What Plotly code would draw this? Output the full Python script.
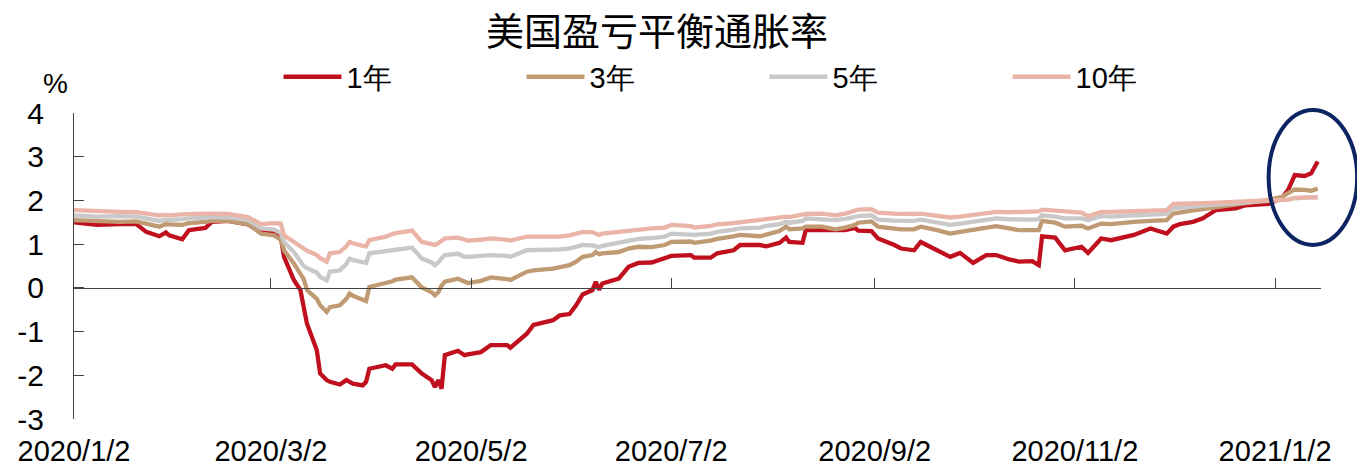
import plotly.graph_objects as go

dates = [
    "2020-01-02", "2020-01-09", "2020-01-16", "2020-01-21", "2020-01-24", "2020-01-28", "2020-01-30", "2020-01-31",
    "2020-02-04", "2020-02-06", "2020-02-11", "2020-02-13", "2020-02-18", "2020-02-24", "2020-02-28",
    "2020-03-03", "2020-03-05", "2020-03-06", "2020-03-09", "2020-03-11", "2020-03-12", "2020-03-13",
    "2020-03-16", "2020-03-17", "2020-03-19", "2020-03-20", "2020-03-23", "2020-03-25", "2020-03-26",
    "2020-03-27", "2020-03-30", "2020-03-31", "2020-04-01", "2020-04-06", "2020-04-08", "2020-04-09",
    "2020-04-14", "2020-04-17", "2020-04-20", "2020-04-21", "2020-04-22", "2020-04-23", "2020-04-24",
    "2020-04-28", "2020-04-30", "2020-05-01", "2020-05-05", "2020-05-08", "2020-05-13", "2020-05-14",
    "2020-05-19", "2020-05-21", "2020-05-27", "2020-05-29", "2020-06-01", "2020-06-03", "2020-06-05",
    "2020-06-08", "2020-06-09", "2020-06-10", "2020-06-11", "2020-06-16", "2020-06-19", "2020-06-22",
    "2020-06-26", "2020-06-30", "2020-07-02", "2020-07-08", "2020-07-09", "2020-07-14", "2020-07-16",
    "2020-07-21", "2020-07-23", "2020-07-29", "2020-07-31", "2020-08-04", "2020-08-06", "2020-08-07",
    "2020-08-11", "2020-08-12", "2020-08-17", "2020-08-21", "2020-08-24", "2020-08-27", "2020-08-28",
    "2020-09-01", "2020-09-03", "2020-09-08", "2020-09-10", "2020-09-14", "2020-09-16", "2020-09-21",
    "2020-09-25", "2020-09-28", "2020-09-30", "2020-10-02", "2020-10-06", "2020-10-09", "2020-10-13",
    "2020-10-16", "2020-10-20", "2020-10-22", "2020-10-23", "2020-10-27", "2020-10-30", "2020-11-04",
    "2020-11-06", "2020-11-10", "2020-11-13", "2020-11-17", "2020-11-20", "2020-11-25", "2020-11-30",
    "2020-12-02", "2020-12-04", "2020-12-08", "2020-12-11", "2020-12-15", "2020-12-21", "2020-12-24",
    "2020-12-31", "2021-01-04", "2021-01-06", "2021-01-08", "2021-01-11", "2021-01-13", "2021-01-15",
]

y1 = [
    1.50, 1.44, 1.46, 1.46, 1.28, 1.18, 1.27, 1.20,
    1.11, 1.32, 1.37, 1.51, 1.53, 1.45, 1.28,
    1.27, 1.17, 0.71, 0.18, -0.05, -0.44, -0.82,
    -1.43, -1.96, -2.11, -2.15, -2.21, -2.11, -2.15,
    -2.19, -2.23, -2.15, -1.85, -1.77, -1.85, -1.75,
    -1.75, -1.96, -2.11, -2.27, -2.11, -2.31, -1.54,
    -1.44, -1.54, -1.52, -1.47, -1.31, -1.31, -1.37,
    -1.05, -0.85, -0.74, -0.63, -0.60, -0.40, -0.15,
    -0.05, 0.14, -0.04, 0.10, 0.21, 0.48, 0.57,
    0.58, 0.69, 0.73, 0.75, 0.69, 0.69, 0.79,
    0.86, 0.98, 0.98, 0.95, 1.03, 1.15, 1.05,
    1.03, 1.32, 1.31, 1.32, 1.32, 1.37, 1.31,
    1.30, 1.13, 0.98, 0.90, 0.86, 1.05, 0.86,
    0.71, 0.80, 0.69, 0.57, 0.75, 0.75, 0.65,
    0.60, 0.61, 0.52, 1.18, 1.15, 0.86, 0.94,
    0.80, 1.13, 1.09, 1.17, 1.21, 1.36, 1.24,
    1.40, 1.46, 1.51, 1.59, 1.78, 1.82, 1.89,
    1.92, 2.05, 2.24, 2.58, 2.56, 2.62, 2.89,
]

y3 = [
    1.55, 1.52, 1.51, 1.52, 1.47, 1.40, 1.46, 1.45,
    1.44, 1.48, 1.51, 1.53, 1.53, 1.46, 1.24,
    1.20, 1.10, 0.86, 0.56, 0.33, 0.20, -0.05,
    -0.25, -0.40, -0.55, -0.44, -0.40, -0.25, -0.13,
    -0.18, -0.28, -0.30, 0.02, 0.11, 0.15, 0.19,
    0.24, 0.01, -0.10, -0.17, -0.10, 0.05, 0.14,
    0.21, 0.16, 0.11, 0.16, 0.24, 0.20, 0.18,
    0.37, 0.40, 0.44, 0.48, 0.52, 0.60, 0.71,
    0.75, 0.82, 0.77, 0.79, 0.82, 0.90, 0.94,
    0.93, 0.98, 1.05, 1.06, 1.03, 1.08, 1.12,
    1.18, 1.21, 1.18, 1.22, 1.30, 1.40, 1.34,
    1.36, 1.40, 1.40, 1.34, 1.38, 1.44, 1.49,
    1.52, 1.40, 1.36, 1.34, 1.34, 1.40, 1.32,
    1.24, 1.28, 1.30, 1.32, 1.38, 1.41, 1.36,
    1.32, 1.32, 1.32, 1.53, 1.49, 1.40, 1.42,
    1.36, 1.47, 1.46, 1.50, 1.51, 1.53, 1.55,
    1.70, 1.73, 1.77, 1.80, 1.84, 1.89, 1.92,
    2.01, 2.08, 2.16, 2.25, 2.24, 2.22, 2.27,
]

y5 = [
    1.66, 1.63, 1.64, 1.63, 1.59, 1.53, 1.56, 1.55,
    1.57, 1.59, 1.61, 1.62, 1.61, 1.56, 1.36,
    1.33, 1.25, 1.05, 0.82, 0.62, 0.50, 0.45,
    0.35, 0.25, 0.17, 0.37, 0.40, 0.55, 0.67,
    0.64, 0.58, 0.57, 0.79, 0.84, 0.86, 0.88,
    0.92, 0.67, 0.58, 0.52, 0.58, 0.68, 0.75,
    0.78, 0.71, 0.71, 0.72, 0.75, 0.73, 0.71,
    0.86, 0.86, 0.86, 0.88, 0.90, 0.95, 0.98,
    0.97, 0.94, 0.93, 0.96, 1.03, 1.08, 1.12,
    1.14, 1.17, 1.24, 1.23, 1.21, 1.24, 1.28,
    1.33, 1.36, 1.38, 1.42, 1.46, 1.51, 1.49,
    1.53, 1.59, 1.58, 1.55, 1.58, 1.62, 1.64,
    1.66, 1.56, 1.54, 1.53, 1.53, 1.56, 1.50,
    1.44, 1.47, 1.49, 1.51, 1.56, 1.59, 1.57,
    1.56, 1.56, 1.57, 1.66, 1.63, 1.59, 1.59,
    1.55, 1.64, 1.63, 1.65, 1.66, 1.68, 1.69,
    1.82, 1.84, 1.86, 1.88, 1.90, 1.93, 1.95,
    1.97, 2.00, 2.02, 2.05, 2.07, 2.07, 2.07,
]

y10 = [
    1.78, 1.75, 1.74, 1.73, 1.70, 1.66, 1.67, 1.66,
    1.68, 1.69, 1.70, 1.70, 1.69, 1.62, 1.46,
    1.48, 1.47, 1.20, 1.05, 0.97, 0.90, 0.85,
    0.75, 0.68, 0.60, 0.79, 0.82, 0.95, 1.05,
    1.02, 0.96, 0.95, 1.09, 1.17, 1.23, 1.25,
    1.31, 1.05, 1.00, 0.98, 1.02, 1.08, 1.13,
    1.15, 1.09, 1.08, 1.10, 1.13, 1.10, 1.08,
    1.17, 1.17, 1.15, 1.17, 1.20, 1.25, 1.28,
    1.27, 1.25, 1.21, 1.24, 1.28, 1.32, 1.35,
    1.36, 1.38, 1.44, 1.41, 1.38, 1.42, 1.45,
    1.48, 1.50, 1.55, 1.58, 1.60, 1.63, 1.62,
    1.66, 1.69, 1.70, 1.66, 1.70, 1.76, 1.79,
    1.80, 1.72, 1.70, 1.69, 1.69, 1.70, 1.66,
    1.61, 1.63, 1.65, 1.66, 1.72, 1.74, 1.73,
    1.74, 1.74, 1.75, 1.79, 1.77, 1.74, 1.72,
    1.64, 1.74, 1.74, 1.75, 1.74, 1.76, 1.78,
    1.92, 1.92, 1.93, 1.94, 1.95, 1.97, 1.98,
    2.01, 2.01, 2.02, 2.06, 2.08, 2.07, 2.07,
]

series_names = ["1年", "3年", "5年", "10年"]
series_colors = ["#C0101E", "#C09A72", "#C9C9C9", "#EAB4A7"]
series_axes = ["x", "x2", "x2", "x2"]
tick_dates = ["2020-01-02", "2020-03-02", "2020-05-02", "2020-07-02", "2020-09-02", "2020-11-02", "2021-01-02"]
tick_labels = ["2020/1/2", "2020/3/2", "2020/5/2", "2020/7/2", "2020/9/2", "2020/11/2", "2021/1/2"]
y_ticks = [-3, -2, -1, 0, 1, 2, 3, 4]
y_tick_labels = ["-3", "-2", "-1", "0", "1", "2", "3", "4"]
x_range = ["2020-01-02", "2021-01-16"]

FONT = "Arial, Liberation Sans, sans-serif"

fig = go.Figure()
for name, vals, col, ax in zip(series_names, [y1, y3, y5, y10], series_colors, series_axes):
    fig.add_trace(go.Scatter(x=dates, y=vals, mode="lines", name=name, xaxis=ax, yaxis="y",
                             line=dict(color=col, width=4.3), hoverinfo="skip"))

y_min, y_max = -3, 4
fig.update_layout(
    width=1357, height=470,
    margin=dict(l=74, r=36, t=113, b=51, autoexpand=False),
    paper_bgcolor="white", plot_bgcolor="white",
    font=dict(family=FONT, size=29, color="black"),
    showlegend=True,
    legend=dict(orientation="h", x=0.164, xanchor="left", y=1.118, yanchor="middle",
                font=dict(family=FONT, size=29), entrywidth=170, entrywidthmode="pixels",
                itemwidth=58, bgcolor="rgba(0,0,0,0)", tracegroupgap=0),
    xaxis=dict(type="date", range=x_range, tickmode="array",
               tickvals=tick_dates, ticktext=tick_labels, ticks="", showline=False,
               showgrid=False, zeroline=False, tickfont=dict(family=FONT, size=29),
               ticklabelstandoff=12),
    xaxis2=dict(type="date", overlaying="x", matches="x", anchor="free",
                position=(0 - y_min) / (y_max - y_min), range=x_range,
                tickmode="array", tickvals=tick_dates, showticklabels=False,
                ticks="inside", ticklen=10, tickcolor="#444", showline=True,
                linecolor="#444", linewidth=1, showgrid=False, zeroline=False),
    yaxis=dict(range=[y_min, y_max], tickmode="array", tickvals=y_ticks, ticktext=y_tick_labels,
               ticks="inside", ticklen=10, tickcolor="#444", showline=True,
               linecolor="#444", linewidth=1, showgrid=False, zeroline=False,
               tickfont=dict(family=FONT, size=30), ticklabelstandoff=23),
)

fig.add_annotation(text="美国盈亏平衡通胀率", xref="paper", yref="paper",
                   x=0.4675, y=1.277, xanchor="center", yanchor="middle",
                   showarrow=False, font=dict(family="Noto Sans CJK SC", size=38, color="black"))
fig.add_annotation(text="%", xref="paper", yref="paper", x=-0.015, y=1.098,
                   xanchor="center", yanchor="middle", showarrow=False,
                   font=dict(family=FONT, size=28, color="black"))

fig.add_shape(type="circle", xref="paper", yref="paper", x0=0.958, x1=1.029,
              y0=0.569, y1=1.01, line=dict(color="#0C2461", width=4), layer="above")

fig.write_html("out.html", config={"displayModeBar": False},
               post_script="document.body.style.margin='0';document.body.style.overflow='hidden';")
